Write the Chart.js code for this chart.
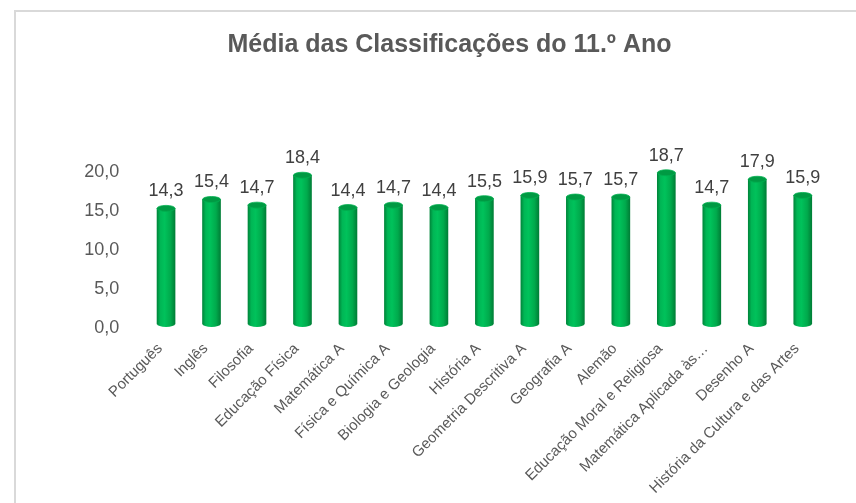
<!DOCTYPE html>
<html>
<head>
<meta charset="utf-8">
<script src="https://cdn.jsdelivr.net/npm/chart.js@4"></script>
<style>
  html, body { margin: 0; padding: 0; background: #fff; overflow: hidden; }
  #wrap { position: relative; width: 856px; height: 503px; }
  #frame { position: absolute; left: 14px; top: 10px; width: 900px; height: 600px;
           border-top: 2px solid #d9d9d9; border-left: 2px solid #d9d9d9; pointer-events: none; }
  canvas { position: absolute; left: 0; top: 0; }
</style>
</head>
<body>
<div id="wrap">
  <canvas id="c" width="856" height="503"></canvas>
  <div id="frame"></div>
</div>
<script>
const titleText = 'Média das Classificações do 11.º Ano';
const categories = [
  'Português', 'Inglês', 'Filosofia', 'Educação Física', 'Matemática A',
  'Física e Química A', 'Biologia e Geologia', 'História A', 'Geometria Descritiva A',
  'Geografia A', 'Alemão', 'Educação Moral e Religiosa', 'Matemática Aplicada às…',
  'Desenho A', 'História da Cultura e das Artes'
];
const values = [14.3, 15.4, 14.7, 18.4, 14.4, 14.7, 14.4, 15.5, 15.9, 15.7, 15.7, 18.7, 14.7, 17.9, 15.9];
const yTicks = [0, 5, 10, 15, 20];

const fmt = v => v.toFixed(1).replace('.', ',');
const FONT = "'Liberation Sans', Arial, sans-serif";
const BAR_W = 18;

function makeGradient(ctx, cx, w) {
  const g = ctx.createLinearGradient(cx - w / 2, 0, cx + w / 2, 0);
  g.addColorStop(0, '#00873b');
  g.addColorStop(0.18, '#00b655');
  g.addColorStop(0.42, '#00c25b');
  g.addColorStop(0.75, '#00aa4c');
  g.addColorStop(1, '#007f37');
  return g;
}

function barGradient(context) {
  const chart = context.chart;
  const xs = chart.scales.x;
  if (!xs || context.dataIndex === undefined) return '#00b050';
  const cx = xs.getPixelForValue(context.dataIndex);
  if (!isFinite(cx)) return '#00b050';
  return makeGradient(chart.ctx, cx, BAR_W);
}

const cylinderPlugin = {
  id: 'cylinder',
  afterDatasetsDraw(chart) {
    const ctx = chart.ctx;
    const meta = chart.getDatasetMeta(0);
    ctx.save();
    meta.data.forEach((el, i) => {
      const w = el.width, cx = el.x, top = el.y, base = el.base;
      if (![w, cx, top, base].every(isFinite)) return;
      const ry = 3;
      ctx.beginPath();
      ctx.ellipse(cx, base, w / 2, ry, 0, 0, Math.PI);
      ctx.fillStyle = makeGradient(ctx, cx, w);
      ctx.fill();
      ctx.beginPath();
      ctx.ellipse(cx, top, w / 2, ry, 0, 0, Math.PI * 2);
      ctx.fillStyle = '#009a43';
      ctx.fill();
      ctx.lineWidth = 0.8;
      ctx.strokeStyle = '#00b050';
      ctx.stroke();
      ctx.fillStyle = '#404040';
      ctx.font = '18px ' + FONT;
      ctx.textAlign = 'center';
      ctx.textBaseline = 'bottom';
      ctx.fillText(fmt(values[i]), cx, top - 8);
    });
    ctx.restore();
  }
};

new Chart(document.getElementById('c'), {
  type: 'bar',
  data: {
    labels: categories,
    datasets: [{
      data: values,
      yAxisID: 'yBars',
      backgroundColor: barGradient,
      borderWidth: 0,
      barThickness: BAR_W
    }]
  },
  options: {
    responsive: false,
    animation: false,
    devicePixelRatio: 1,
    layout: { padding: { left: 73.5, right: 30.5, top: 30, bottom: 0 } },
    plugins: {
      legend: { display: false },
      tooltip: { enabled: false },
      title: {
        display: true,
        text: titleText,
        color: '#595959',
        font: { family: FONT, size: 25, weight: 'bold', lineHeight: 1.2 },
        padding: { top: 0, bottom: 112 }
      }
    },
    scales: {
      x: {
        grid: { display: false, drawTicks: false },
        border: { display: false },
        ticks: {
          autoSkip: false,
          minRotation: 45,
          maxRotation: 45,
          padding: 12,
          labelOffset: -6,
          color: '#595959',
          font: { family: FONT, size: 15 }
        },
        afterFit(scale) { scale.height = 175; }
      },
      y: {
        position: 'left',
        min: 0,
        max: 20,
        grid: { display: false, drawTicks: false },
        border: { display: false },
        afterBuildTicks(scale) { scale.ticks = yTicks.map(v => ({ value: v })); },
        ticks: {
          padding: 24,
          color: '#595959',
          font: { family: FONT, size: 18 },
          callback: v => fmt(v)
        },
        afterFit(scale) { scale.width = 69.8; }
      },
      yBars: {
        display: false,
        min: -0.495,
        max: 18.8
      }
    }
  },
  plugins: [cylinderPlugin]
});
</script>
</body>
</html>
